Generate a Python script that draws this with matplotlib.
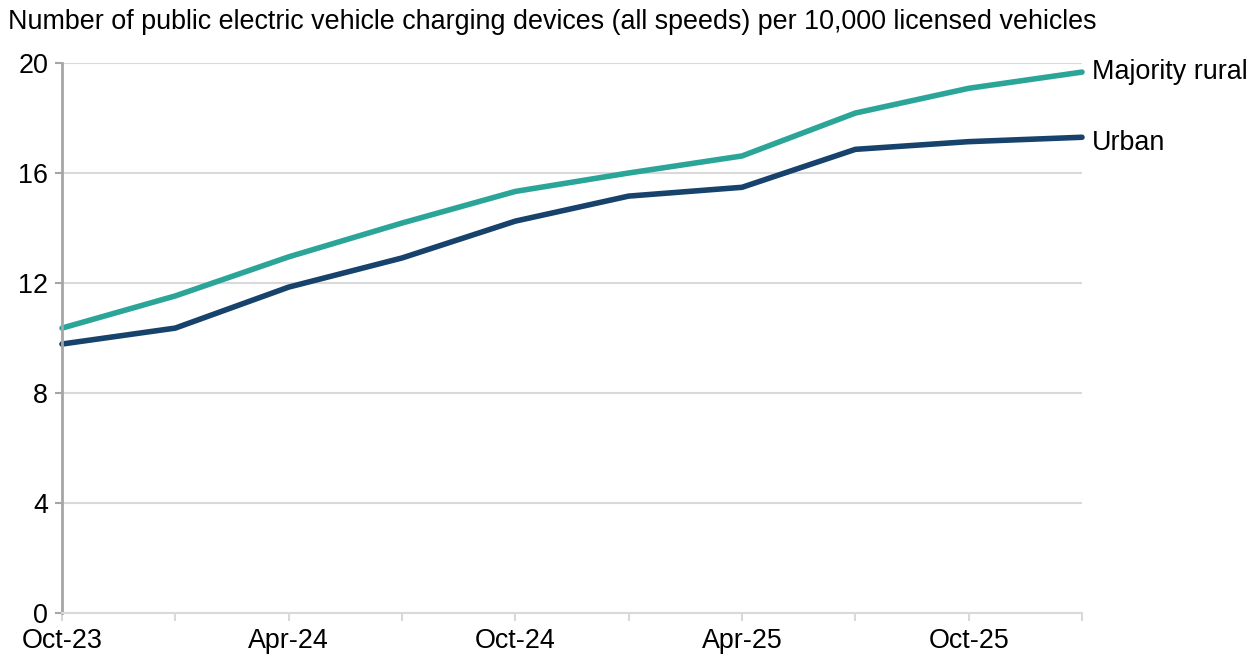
import matplotlib.pyplot as plt

plt.rcParams['font.family'] = ['Liberation Sans', 'DejaVu Sans']

# quarterly figures, Oct-23 to Jan-26
quarters = ["Oct-23", "Jan-24", "Apr-24", "Jul-24", "Oct-24",
            "Jan-25", "Apr-25", "Jul-25", "Oct-25", "Jan-26"]
rural = [10.36, 11.53, 12.95, 14.18, 15.33, 16.0, 16.62, 18.18, 19.08, 19.67]
urban = [9.78, 10.36, 11.85, 12.91, 14.25, 15.16, 15.48, 16.86, 17.14, 17.30]
yticks = [0, 4, 8, 12, 16, 20]

teal = "#2ba598"
navy = "#17426b"
fs = 19.4

fig = plt.figure(figsize=(12.57, 6.57), dpi=100)
ax = fig.add_axes([0.0493, 0.0670, 0.8115, 0.8371])

x = list(range(len(quarters)))
ax.plot(x, rural, color=teal, lw=4.0, solid_capstyle="round", solid_joinstyle="round", clip_on=False)
ax.plot(x, urban, color=navy, lw=4.0, solid_capstyle="round", solid_joinstyle="round", clip_on=False)

ax.set_xlim(0, len(quarters) - 1)
ax.set_ylim(0, 20)
ax.set_yticks(yticks)
ax.set_yticklabels([str(v) for v in yticks], fontsize=fs)
ax.set_xticks(x)
ax.set_xticklabels([q if i % 2 == 0 else "" for i, q in enumerate(quarters)], fontsize=fs)

ax.grid(axis="y", color="#d9d9d9", lw=1.5)
ax.set_axisbelow(True)
for s in ["top", "right"]:
    ax.spines[s].set_visible(False)
ax.spines["left"].set_color("#a6a6a6")
ax.spines["left"].set_linewidth(2)
ax.spines["bottom"].set_color("#d9d9d9")
ax.spines["bottom"].set_linewidth(1.5)
ax.tick_params(axis="y", length=5, width=1.5, color="#a6a6a6", pad=5)
ax.tick_params(axis="x", length=6, width=1.5, color="#d9d9d9", pad=5)

# series labels at the line ends
ax.annotate("Majority rural", xy=(x[-1], rural[-1]), xytext=(7, 0), textcoords="offset points",
            va="center", ha="left", fontsize=fs, annotation_clip=False)
ax.annotate("Urban", xy=(x[-1], urban[-1]), xytext=(7, -4), textcoords="offset points",
            va="center", ha="left", fontsize=fs, annotation_clip=False)

fig.text(8 / 1257, 1 - 22 / 657,
         "Number of public electric vehicle charging devices (all speeds) per 10,000 licensed vehicles",
         fontsize=fs, va="center", ha="left")

fig.savefig("out.png", dpi=100)
